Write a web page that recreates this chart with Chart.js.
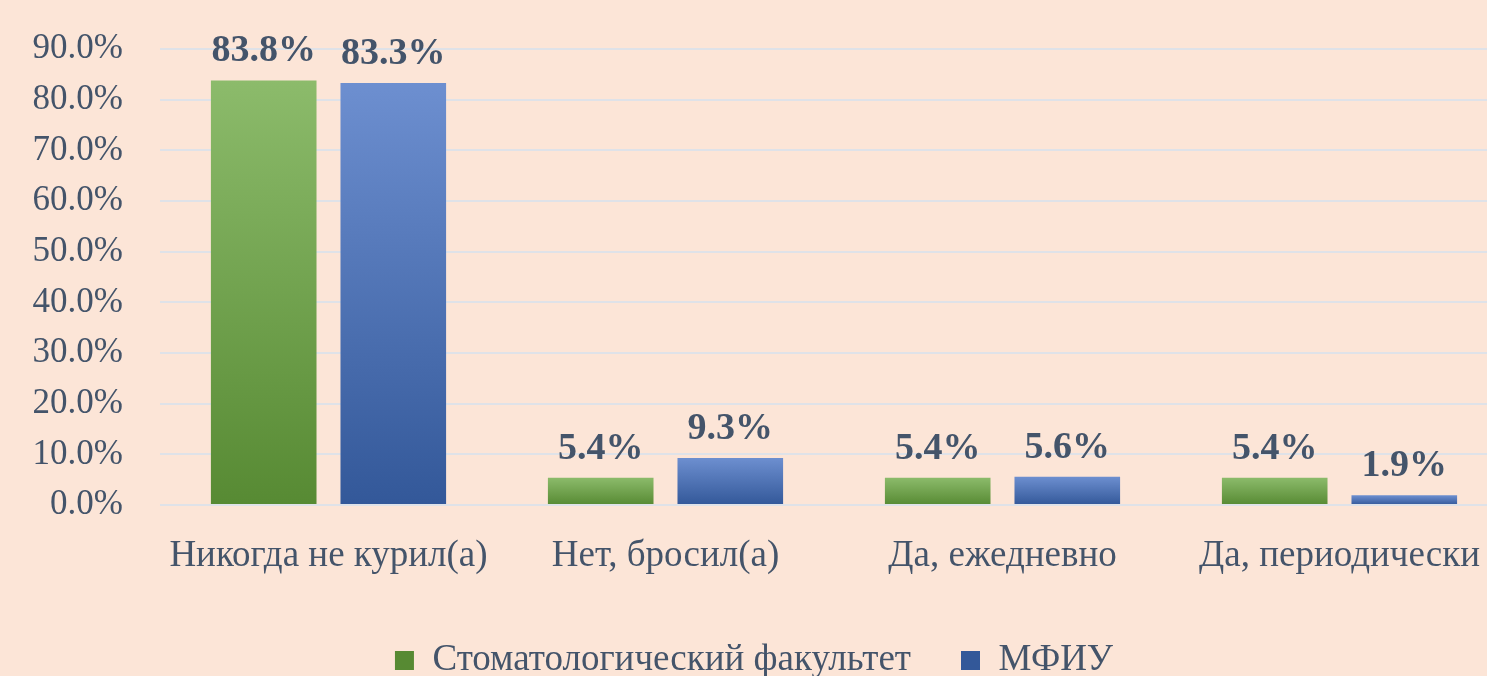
<!DOCTYPE html>
<html>
<head>
<meta charset="utf-8">
<script src="https://cdn.jsdelivr.net/npm/chart.js@4/dist/chart.umd.min.js"></script>
<style>
  html, body { margin: 0; padding: 0; background: #fce5d7; overflow: hidden; }
  /* plot area runs a little past the right and top edges, as in the source picture */
  #wrap { width: 1508px; height: 685px; margin-top: -9px; }
</style>
</head>
<body>
<div id="wrap"><canvas id="smokingChart"></canvas></div>
<script>
var categories = ['Никогда не курил(а)', 'Нет, бросил(а)', 'Да, ежедневно', 'Да, периодически'];
var stomValues = [83.8, 5.4, 5.4, 5.4];
var mfiuValues = [83.3, 9.3, 5.6, 1.9];
var seriesNames = ['Стоматологический факультет', 'МФИУ'];
var yTicks = [0, 10, 20, 30, 40, 50, 60, 70, 80, 90];

var textColor = '#44546a';
var gridColor = '#dfe2e8';
var serif = "'Liberation Serif', 'Times New Roman', serif";

// each bar gets its own light-to-dark vertical gradient
function barGradient(top, bottom, solid) {
    return function (ctx) {
        var chart = ctx.chart;
        if (ctx.type !== 'data' || !chart.chartArea) {
            return solid;
        }
        var y = chart.scales.y;
        var y0 = y.getPixelForValue(ctx.raw);
        var y1 = y.getPixelForValue(0);
        var g = chart.ctx.createLinearGradient(0, y0, 0, y1);
        g.addColorStop(0, top);
        g.addColorStop(1, bottom);
        return g;
    };
}

var valueLabels = {
    id: 'valueLabels',
    afterDatasetsDraw: function (chart) {
        var ctx = chart.ctx;
        ctx.save();
        ctx.font = 'bold 38px ' + serif;
        ctx.fillStyle = textColor;
        ctx.textAlign = 'center';
        ctx.textBaseline = 'alphabetic';
        chart.data.datasets.forEach(function (ds, i) {
            var meta = chart.getDatasetMeta(i);
            meta.data.forEach(function (bar, j) {
                ctx.fillText(ds.data[j].toFixed(1) + '%', bar.x, bar.y - 19);
            });
        });
        ctx.restore();
    }
};

new Chart(document.getElementById('smokingChart'), {
    type: 'bar',
    data: {
        labels: categories,
        datasets: [{
            label: seriesNames[0],
            data: stomValues,
            backgroundColor: barGradient('#8cbb6b', '#578a33', '#6fa04c'),
            categoryPercentage: 0.769,
            barPercentage: 0.815
        }, {
            label: seriesNames[1],
            data: mfiuValues,
            backgroundColor: barGradient('#6d8fd0', '#335899', '#4f72b6'),
            categoryPercentage: 0.769,
            barPercentage: 0.815
        }]
    },
    options: {
        responsive: true,
        maintainAspectRatio: false,
        animation: false,
        layout: { padding: { top: 0, right: 0, bottom: -13, left: 0 } },
        plugins: {
            tooltip: { enabled: false },
            legend: {
                position: 'bottom',
                labels: {
                    color: textColor,
                    font: { family: serif, size: 37 },
                    boxWidth: 19,
                    boxHeight: 19,
                    padding: 50
                }
            }
        },
        scales: {
            x: {
                grid: { display: false },
                border: { display: false },
                ticks: {
                    color: textColor,
                    font: { family: serif, size: 37 },
                    padding: 21,
                    maxRotation: 0,
                    autoSkip: false
                },
                afterFit: function (scale) { scale.height = 87; }
            },
            y: {
                min: 0,
                max: 90,
                border: { display: false },
                grid: { color: gridColor, lineWidth: 2, drawTicks: false },
                afterBuildTicks: function (scale) {
                    scale.ticks = yTicks.map(function (v) { return { value: v }; });
                },
                ticks: {
                    color: textColor,
                    font: { family: serif, size: 35 },
                    padding: 37,
                    autoSkip: false,
                    callback: function (v) { return v.toFixed(1) + '%'; }
                },
                afterFit: function (scale) { scale.width = 160; }
            }
        }
    },
    plugins: [valueLabels]
});
</script>
</body>
</html>
